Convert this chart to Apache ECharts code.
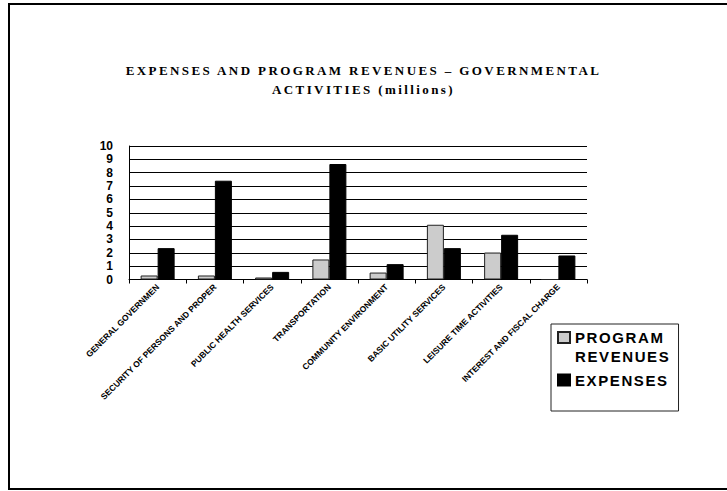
<!DOCTYPE html>
<html>
<head>
<meta charset="utf-8">
<script src="https://cdn.jsdelivr.net/npm/echarts@6/dist/echarts.min.js"></script>
<style>
  html, body { margin: 0; padding: 0; background: #fff; }
  #chart { width: 727px; height: 491px; }
  #chart text[style*="Serif"], #chart text[font-family*="Serif"] { letter-spacing: 2.4px; }
  #chart text[style*="Arial"], #chart text[font-family*="Arial"] { letter-spacing: 1.6px; }
</style>
</head>
<body>
<div id="chart"></div>
<script>
const categories = [
  'GENERAL GOVERNMEN',
  'SECURITY OF PERSONS AND PROPER',
  'PUBLIC HEALTH SERVICES',
  'TRANSPORTATION',
  'COMMUNITY ENVIRONMENT',
  'BASIC UTILITY SERVICES',
  'LEISURE TIME ACTIVITIES',
  'INTEREST AND FISCAL CHARGE'
];
const programRevenues = [0.3, 0.3, 0.15, 1.5, 0.52, 4.1, 2.02, 0];
const expenses = [2.35, 7.4, 0.57, 8.65, 1.15, 2.35, 3.35, 1.8];
const yTicks = { min: 0, max: 10, interval: 1 };
const titleText = 'EXPENSES AND PROGRAM REVENUES \u2013 GOVERNMENTAL\nACTIVITIES (millions)';
const seriesNames = ['PROGRAM REVENUES', 'EXPENSES'];

const chart = echarts.init(document.getElementById('chart'), null, { renderer: 'svg' });
chart.setOption({
  animation: false,
  backgroundColor: '#fff',
  title: {
    text: titleText,
    left: 'center',
    top: 61,
    padding: 0,
    textStyle: {
      fontFamily: "'Liberation Serif', serif",
      fontWeight: 'bold',
      fontSize: 13,
      lineHeight: 19,
      color: '#000'
    }
  },
  graphic: [{
    type: 'rect',
    shape: { x: 9, y: 4, width: 740, height: 485 },
    style: { fill: 'none', stroke: '#000', lineWidth: 2 },
    silent: true
  }],
  legend: {
    orient: 'vertical',
    left: 551,
    top: 324,
    padding: [4, 21, 15, 6],
    itemGap: -2,
    itemWidth: 12,
    itemHeight: 30,
    borderColor: '#222',
    borderWidth: 1,
    formatter: function (name) { return name === seriesNames[0] ? 'PROGRAM\nREVENUES' : name; },
    textStyle: {
      fontFamily: 'Arial',
      fontWeight: 'bold',
      fontSize: 15,
      lineHeight: 19,
      color: '#000'
    },
    data: [
      { name: seriesNames[0], icon: 'path://M0,0h12v11h-12z M0,30' },
      { name: seriesNames[1], icon: 'path://M0,0 M0,9.5h12v11h-12z M0,30' }
    ]
  },
  grid: { left: 129, right: 140, top: 146, bottom: 211.5, containLabel: false },
  xAxis: {
    type: 'category',
    data: categories,
    axisLine: { lineStyle: { color: '#000', width: 1 } },
    axisTick: { show: true, length: 4, alignWithLabel: false, lineStyle: { color: '#000' } },
    axisLabel: {
      interval: 0,
      rotate: 45,
      margin: 6,
      fontFamily: "'Liberation Sans', sans-serif",
      fontWeight: 'bold',
      fontSize: 8.5,
      color: '#000'
    },
    splitLine: { show: false }
  },
  yAxis: {
    type: 'value',
    min: yTicks.min,
    max: yTicks.max,
    interval: yTicks.interval,
    axisLine: { show: true, lineStyle: { color: '#000', width: 1 } },
    axisTick: { show: false },
    axisLabel: {
      margin: 16,
      showMinLabel: true,
      showMaxLabel: true,
      hideOverlap: false,
      fontFamily: "'Liberation Sans', sans-serif",
      fontWeight: 'bold',
      fontSize: 12,
      lineHeight: 12,
      color: '#000'
    },
    splitLine: { show: true, lineStyle: { color: '#000', width: 1 } }
  },
  series: [
    {
      name: seriesNames[0],
      type: 'bar',
      data: programRevenues,
      barWidth: 17,
      barGap: '0%',
      itemStyle: { color: '#cccccc', borderColor: '#222', borderWidth: 1 }
    },
    {
      name: seriesNames[1],
      type: 'bar',
      data: expenses,
      barWidth: 17,
      barGap: '0%',
      itemStyle: { color: '#000000', borderColor: '#000', borderWidth: 1 }
    }
  ]
});
</script>
</body>
</html>
